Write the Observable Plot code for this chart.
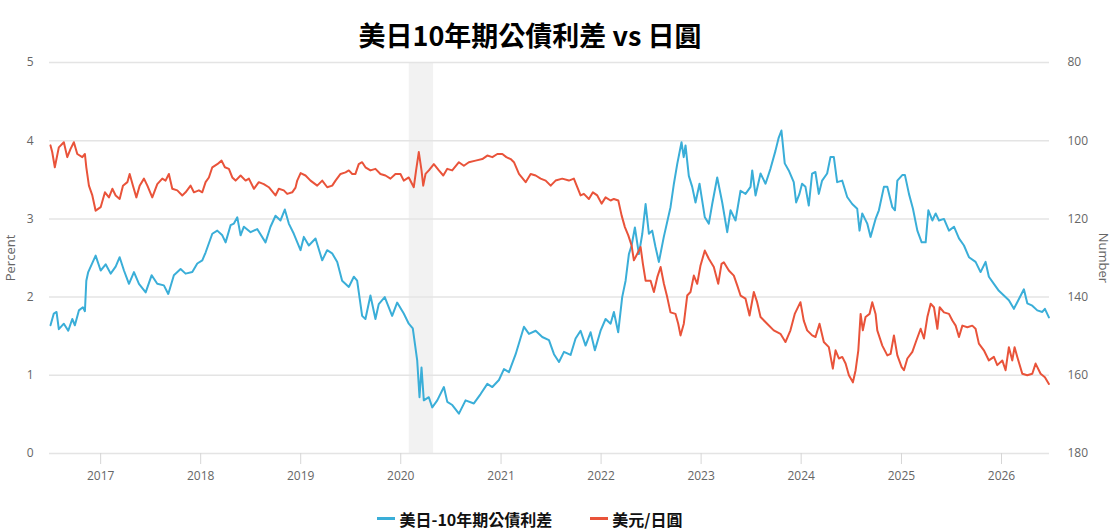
<!DOCTYPE html>
<html><head><meta charset="utf-8">
<script src="https://cdn.jsdelivr.net/npm/d3@7"></script>
<script src="https://cdn.jsdelivr.net/npm/@observablehq/plot@0.6"></script>
<style>
body{margin:0;background:#fff;font-family:"Open Sans",sans-serif;width:1116px;height:531px;overflow:hidden;}
#title{width:1060px;height:54px;box-sizing:border-box;padding-top:16px;line-height:38px;text-align:center;font-family:"Noto Sans CJK TC",sans-serif;font-weight:bold;font-size:27px;color:#000;}
#chart svg{display:block;}
#legend{width:1060px;height:31px;display:flex;justify-content:center;align-items:center;gap:38px;font-family:"Noto Sans CJK TC",sans-serif;font-weight:bold;font-size:16px;color:#111;padding-top:6px;box-sizing:border-box;}
.item{display:flex;align-items:center;gap:4px;}
.sw{display:inline-block;width:18px;height:3px;}
</style></head><body>
<div id="title">美日10年期公債利差 vs 日圓</div>
<div id="chart"></div>
<div id="legend"></div>
<script>
const seriesNames = ["美日-10年期公債利差", "美元/日圓"];
const seriesColors = ["#3aaed8", "#e9533a"];

const spreadYears = [
2016.500,2016.533,2016.560,2016.583,2016.633,2016.677,2016.717,2016.743,2016.783,2016.823,2016.843,2016.857,2016.876,2016.950,
2017.000,2017.050,2017.100,2017.150,2017.190,2017.233,2017.283,2017.333,2017.383,2017.450,2017.510,2017.566,2017.632,2017.676,2017.732,2017.799,2017.849,2017.916,2017.966,
2018.016,2018.049,2018.116,2018.166,2018.216,2018.249,2018.299,2018.332,2018.366,2018.399,2018.432,2018.499,2018.565,2018.648,2018.698,2018.748,2018.798,2018.841,2018.881,2018.931,2018.998,
2019.031,2019.081,2019.148,2019.215,2019.264,2019.314,2019.365,2019.414,2019.481,2019.531,2019.564,2019.614,2019.647,2019.697,2019.747,2019.780,2019.840,2019.914,2019.964,
2020.030,2020.080,2020.120,2020.164,2020.187,2020.207,2020.230,2020.280,2020.314,2020.364,2020.430,2020.464,2020.514,2020.580,2020.646,2020.729,2020.796,2020.863,2020.913,2020.979,
2021.029,2021.079,2021.146,2021.229,2021.279,2021.346,2021.412,2021.479,2021.529,2021.579,2021.629,2021.695,2021.745,2021.795,2021.845,2021.895,2021.938,2021.995,
2022.045,2022.095,2022.128,2022.171,2022.211,2022.245,2022.278,2022.305,2022.338,2022.378,2022.412,2022.445,2022.478,2022.511,2022.544,2022.578,2022.627,2022.694,2022.728,2022.761,2022.804,2022.826,2022.844,2022.877,2022.911,2022.944,2022.984,
2023.037,2023.077,2023.111,2023.161,2023.211,2023.261,2023.294,2023.344,2023.394,2023.444,2023.494,2023.511,2023.544,2023.594,2023.644,2023.693,2023.743,2023.776,2023.803,2023.836,2023.876,2023.926,2023.950,2023.983,
2024.009,2024.043,2024.076,2024.109,2024.142,2024.176,2024.209,2024.259,2024.292,2024.326,2024.359,2024.409,2024.459,2024.509,2024.559,2024.582,2024.609,2024.659,2024.692,2024.742,2024.775,2024.825,2024.859,2024.909,2024.935,2024.959,
2025.008,2025.035,2025.075,2025.115,2025.159,2025.202,2025.242,2025.269,2025.309,2025.342,2025.375,2025.425,2025.475,2025.525,2025.575,2025.625,2025.675,2025.741,2025.791,2025.841,2025.874,2025.924,2025.974,
2026.024,2026.074,2026.124,2026.168,2026.224,2026.258,2026.308,2026.358,2026.408,2026.434,2026.474];
const spreadValues = [
1.64,1.79,1.81,1.59,1.66,1.57,1.72,1.64,1.83,1.87,1.82,2.21,2.32,2.53,
2.34,2.42,2.30,2.39,2.51,2.34,2.17,2.32,2.17,2.06,2.28,2.17,2.15,2.04,2.28,2.36,2.30,2.32,2.43,
2.47,2.57,2.81,2.85,2.79,2.70,2.92,2.94,3.02,2.79,2.90,2.83,2.87,2.70,2.90,3.04,2.98,3.12,2.94,2.81,2.60,
2.77,2.66,2.75,2.47,2.60,2.56,2.45,2.21,2.13,2.26,2.21,1.76,1.72,2.02,1.72,1.91,2.00,1.76,1.93,
1.79,1.66,1.60,1.19,0.72,1.10,0.68,0.72,0.59,0.68,0.85,0.66,0.62,0.51,0.68,0.64,0.76,0.89,0.85,0.94,
1.08,1.04,1.27,1.62,1.53,1.57,1.49,1.45,1.27,1.17,1.30,1.26,1.47,1.57,1.38,1.55,1.32,1.57,
1.72,1.66,1.81,1.55,2.00,2.21,2.55,2.66,2.89,2.55,2.81,3.19,2.81,2.85,2.64,2.45,2.77,3.15,3.45,3.70,3.98,3.79,3.94,3.55,3.41,3.21,3.45,
3.02,2.94,3.19,3.53,3.21,2.83,3.11,2.98,3.36,3.32,3.41,3.62,3.30,3.58,3.45,3.64,3.87,4.04,4.13,3.71,3.62,3.47,3.21,3.32,
3.45,3.41,3.17,3.58,3.60,3.32,3.49,3.58,3.79,3.79,3.47,3.49,3.28,3.19,3.13,2.85,3.07,2.94,2.77,3.00,3.11,3.41,3.41,3.15,3.11,3.49,
3.56,3.56,3.32,3.13,2.85,2.70,2.70,3.11,2.98,3.07,2.98,3.00,2.85,2.90,2.75,2.66,2.51,2.45,2.32,2.45,2.26,2.17,2.08,
2.02,1.96,1.85,1.96,2.10,1.92,1.89,1.83,1.81,1.85,1.74];

const usdJpyYears = [
2016.500,2016.517,2016.543,2016.583,2016.633,2016.667,2016.700,2016.733,2016.767,2016.817,2016.843,2016.857,2016.883,2016.917,2016.950,
2017.000,2017.043,2017.083,2017.117,2017.150,2017.190,2017.223,2017.267,2017.290,2017.323,2017.357,2017.390,2017.433,2017.467,2017.516,2017.566,2017.616,2017.649,2017.682,2017.716,2017.766,2017.816,2017.849,2017.899,2017.932,2017.982,
2018.016,2018.049,2018.082,2018.116,2018.166,2018.209,2018.242,2018.282,2018.316,2018.349,2018.399,2018.449,2018.482,2018.532,2018.581,2018.631,2018.681,2018.748,2018.781,2018.831,2018.865,2018.915,2018.948,2018.965,2018.999,
2019.048,2019.098,2019.165,2019.215,2019.265,2019.315,2019.348,2019.398,2019.448,2019.481,2019.515,2019.547,2019.580,2019.614,2019.647,2019.697,2019.747,2019.797,2019.847,2019.897,2019.947,2019.997,
2020.030,2020.080,2020.130,2020.153,2020.180,2020.207,2020.224,2020.247,2020.280,2020.330,2020.380,2020.424,2020.464,2020.513,2020.580,2020.629,2020.679,2020.746,2020.813,2020.863,2020.913,2020.963,
2021.013,2021.053,2021.096,2021.129,2021.179,2021.246,2021.296,2021.346,2021.396,2021.446,2021.496,2021.545,2021.612,2021.678,2021.728,2021.762,2021.795,2021.828,2021.878,2021.918,2021.962,
2022.005,2022.045,2022.095,2022.128,2022.172,2022.205,2022.238,2022.272,2022.305,2022.328,2022.362,2022.395,2022.418,2022.445,2022.495,2022.528,2022.562,2022.595,2022.628,2022.661,2022.694,2022.744,2022.771,2022.794,2022.827,2022.861,2022.894,2022.927,2022.961,2022.994,
2023.037,2023.077,2023.127,2023.171,2023.204,2023.227,2023.277,2023.327,2023.361,2023.394,2023.444,2023.484,2023.527,2023.560,2023.594,2023.660,2023.726,2023.793,2023.843,2023.893,2023.936,2023.993,
2024.026,2024.060,2024.110,2024.143,2024.183,2024.226,2024.276,2024.316,2024.343,2024.376,2024.410,2024.443,2024.476,2024.516,2024.543,2024.570,2024.593,2024.615,2024.642,2024.682,2024.709,2024.742,2024.759,2024.809,2024.859,2024.892,2024.925,2024.959,
2025.002,2025.025,2025.059,2025.109,2025.149,2025.192,2025.225,2025.259,2025.292,2025.325,2025.359,2025.382,2025.425,2025.475,2025.509,2025.542,2025.575,2025.609,2025.659,2025.708,2025.741,2025.774,2025.824,2025.874,2025.924,2025.958,
2026.008,2026.041,2026.074,2026.108,2026.131,2026.158,2026.208,2026.258,2026.308,2026.341,2026.391,2026.434,2026.474];
const usdJpyValues = [
101.2,102.9,106.8,101.7,100.4,104.2,102.1,100.4,103.4,104.2,103.4,106.8,111.5,114.0,117.9,
117.0,113.2,114.5,112.3,114.0,114.9,111.5,110.6,108.5,111.5,114.5,111.5,109.7,111.5,114.5,111.1,109.7,110.2,108.5,112.3,112.7,114.0,113.2,111.5,113.2,112.7,
113.2,110.6,109.4,106.8,106.0,105.1,106.8,107.2,109.4,110.2,108.9,110.2,109.7,112.3,110.6,111.1,111.9,114.0,112.3,112.7,113.6,113.2,112.0,110.2,108.3,
108.9,110.2,111.5,110.2,111.9,111.5,110.2,108.5,108.1,107.6,108.5,108.5,106.0,105.5,106.8,107.6,107.2,108.5,108.9,109.7,108.5,108.5,
110.2,109.4,111.9,107.6,102.9,107.6,111.5,108.5,107.6,106.0,107.6,108.9,107.2,107.6,105.5,106.4,105.5,105.1,104.7,103.8,104.2,103.4,
103.4,104.2,104.7,105.5,108.5,110.6,108.5,108.9,109.7,110.2,111.5,110.2,109.7,110.2,109.7,111.9,114.0,113.6,114.9,113.2,114.0,
116.1,114.5,115.3,114.9,115.3,119.1,122.1,124.2,126.8,130.6,128.9,127.2,131.5,135.8,135.8,138.7,134.9,132.3,136.6,140.0,143.9,144.3,146.8,149.8,146.8,139.6,138.7,134.5,136.6,131.9,
128.1,130.2,132.3,136.6,131.5,131.1,133.2,134.5,137.0,139.6,140.4,144.7,138.7,141.3,145.1,146.8,148.5,149.4,151.5,148.5,144.3,141.3,
146.0,148.5,149.8,150.2,146.8,151.5,152.8,158.3,153.6,155.7,155.3,157.0,160.0,161.8,158.7,153.6,144.3,148.5,145.1,144.3,141.3,144.3,148.5,152.4,154.9,154.5,149.8,154.9,
157.9,158.7,155.7,154.0,151.1,148.1,150.6,145.1,141.7,142.6,148.1,142.6,143.9,144.3,146.0,147.3,150.2,147.3,147.7,147.3,148.1,151.9,153.6,156.2,155.3,157.4,
156.2,158.7,152.8,156.2,152.8,155.3,159.6,160.0,159.6,157.0,159.6,160.5,162.2];

const percentTicks = [0, 1, 2, 3, 4, 5];
const numberTicks = [80, 100, 120, 140, 160, 180];
const yearTicks = [2017, 2018, 2019, 2020, 2021, 2022, 2023, 2024, 2025, 2026];
const xDomainYears = [2016.49, 2026.48];
const recessionPeriod = ["2020-02-01", "2020-04-30"];
const axisTitles = ["Percent", "Number"];

function toDate(y) {
  const yr = Math.floor(y);
  const s = Date.UTC(yr, 0, 1), e = Date.UTC(yr + 1, 0, 1);
  return new Date(s + (y - yr) * (e - s));
}
// right axis (Number, inverted 80 top .. 180 bottom) mapped onto the Percent scale
const numTop = numberTicks[0], numBottom = numberTicks[numberTicks.length - 1];
const pMax = percentTicks[percentTicks.length - 1];
const numToPct = v => (numBottom - v) / (numBottom - numTop) * pMax;
const pctToNum = p => numBottom - p / pMax * (numBottom - numTop);

const spread = spreadYears.map((y, i) => ({date: toDate(y), value: spreadValues[i]}));
const usdJpy = usdJpyYears.map((y, i) => ({date: toDate(y), value: usdJpyValues[i]}));

const chart = Plot.plot({
  width: 1116, height: 446,
  marginTop: 8, marginBottom: 47, marginLeft: 49, marginRight: 67,
  style: {fontFamily: "'Open Sans', sans-serif", fontSize: "12px", color: "#666", background: "#fff"},
  x: {type: "utc", domain: xDomainYears.map(toDate)},
  y: {domain: [0, pMax]},
  marks: [
    Plot.rect([recessionPeriod], {x1: d => new Date(d[0]), x2: d => new Date(d[1]), y1: 0, y2: pMax, fill: "#f2f2f2"}),
    Plot.gridY(percentTicks, {stroke: "#e4e4e4", strokeOpacity: 1, strokeWidth: 1.5}),
    Plot.axisY(percentTicks, {anchor: "left", tickSize: 0, tickPadding: 16, label: null,
      tickFormat: d => String(d)}),
    Plot.axisY(numberTicks.map(numToPct), {anchor: "right", tickSize: 0, tickPadding: 18, label: null,
      tickFormat: p => String(Math.round(pctToNum(p)))}),
    Plot.axisX(yearTicks.map(y => new Date(Date.UTC(y, 0, 1))), {tickSize: 11, tickPadding: 7, label: null,
      stroke: "#d6d6d6", tickFormat: d => String(d.getUTCFullYear())}),
    Plot.line(spread, {x: "date", y: "value", stroke: seriesColors[0], strokeWidth: 2}),
    Plot.line(usdJpy, {x: "date", y: d => numToPct(d.value), stroke: seriesColors[1], strokeWidth: 2}),
    Plot.text([axisTitles[0]], {frameAnchor: "left", textAnchor: "middle", dx: -39, rotate: -90, fill: "#666", fontSize: 13}),
    Plot.text([axisTitles[1]], {frameAnchor: "right", textAnchor: "middle", dx: 54, rotate: 90, fill: "#666", fontSize: 13})
  ]
});
document.getElementById("chart").appendChild(chart);

const legend = document.getElementById("legend");
seriesNames.forEach((name, i) => {
  const item = document.createElement("div");
  item.className = "item";
  const sw = document.createElement("span");
  sw.className = "sw";
  sw.style.background = seriesColors[i];
  const t = document.createElement("span");
  t.textContent = name;
  item.appendChild(sw); item.appendChild(t);
  legend.appendChild(item);
});
</script>
</body></html>
